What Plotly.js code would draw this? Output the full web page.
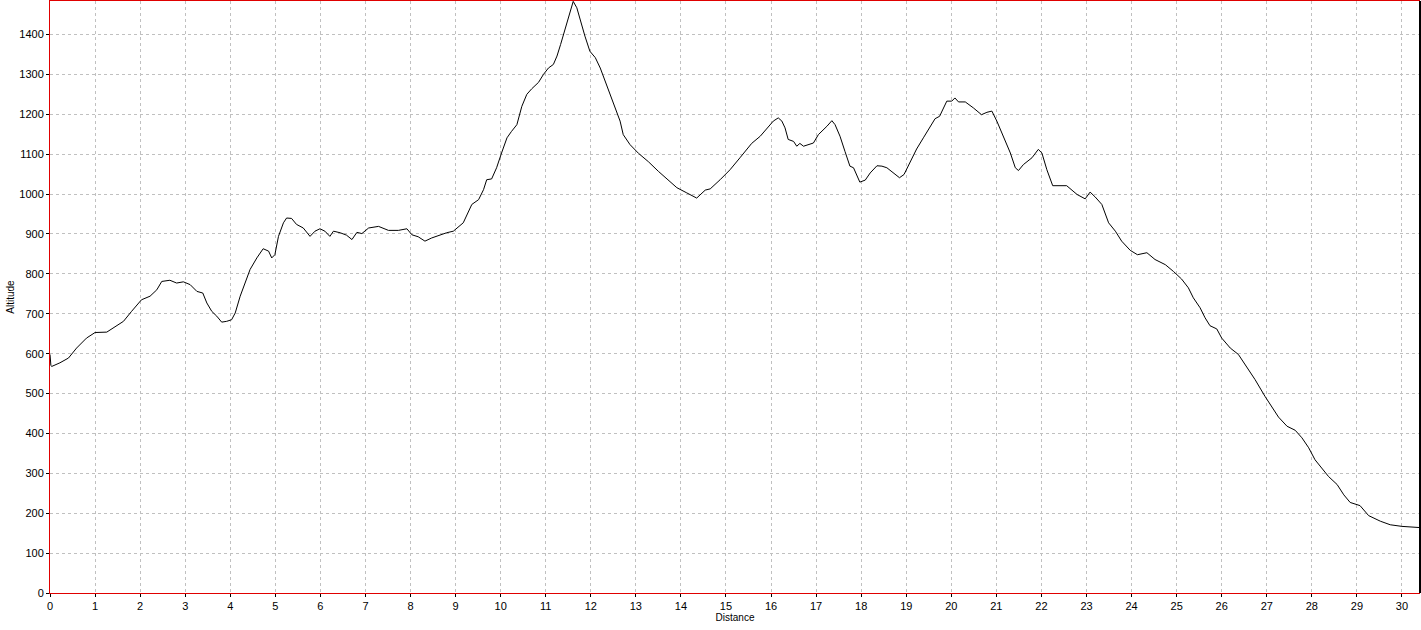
<!DOCTYPE html>
<html>
<head>
<meta charset="utf-8">
<script src="https://cdn.plot.ly/plotly-3.0.1.min.js"></script>
<style>html,body{margin:0;padding:0;background:#fff;}#chart{width:1421px;height:630px;}</style>
</head>
<body>
<div id="chart"></div>
<script>
const distance = [0, 0.02, 0.04, 0.22, 0.41, 0.59, 0.81, 1.0, 1.26, 1.44, 1.63, 1.81, 2.03, 2.22, 2.37, 2.48, 2.66, 2.81, 2.96, 3.11, 3.26, 3.39, 3.48, 3.59, 3.70, 3.81, 3.92, 4.03, 4.11, 4.22, 4.33, 4.44,
  4.59, 4.73, 4.85, 4.92, 4.99, 5.07, 5.18, 5.25, 5.36, 5.47, 5.62, 5.77, 5.88, 5.99, 6.10, 6.21, 6.29, 6.44, 6.58, 6.70, 6.81, 6.92, 7.07, 7.29, 7.51, 7.73, 7.92, 8.03, 8.17, 8.32, 8.47, 8.66, 8.80, 8.95,
  9.17, 9.36, 9.51, 9.62, 9.69, 9.80, 9.91, 10.02, 10.14, 10.24, 10.36, 10.47, 10.58, 10.69, 10.84, 10.95, 11.06, 11.17, 11.25, 11.33, 11.43, 11.50, 11.58, 11.61, 11.69, 11.76, 11.87, 11.98,
  12.10, 12.21, 12.32, 12.43, 12.54, 12.65, 12.72, 12.87, 13.06, 13.28, 13.50, 13.72, 13.91, 14.13, 14.35, 14.54, 14.65, 14.87, 15.09, 15.31, 15.57, 15.76, 15.98, 16.05, 16.16, 16.24, 16.31, 16.38,
  16.50, 16.57, 16.64, 16.72, 16.94, 17.05, 17.24, 17.35, 17.42, 17.53, 17.64, 17.75, 17.83, 17.97, 18.09, 18.20, 18.35, 18.46, 18.57, 18.72, 18.85, 18.95, 19.09, 19.23, 19.38, 19.53, 19.64, 19.74,
  19.83, 19.90, 20.01, 20.08, 20.16, 20.31, 20.49, 20.67, 20.79, 20.90, 21.01, 21.16, 21.31, 21.42, 21.49, 21.60, 21.79, 21.93, 22.01, 22.12, 22.25, 22.56, 22.79, 22.97, 23.08, 23.19, 23.34, 23.49,
  23.64, 23.78, 23.97, 24.13, 24.34, 24.52, 24.75, 24.93, 25.11, 25.26, 25.37, 25.52, 25.63, 25.74, 25.89, 26.00, 26.19, 26.37, 26.52, 26.62, 26.74, 26.96, 27.11, 27.26, 27.45, 27.63, 27.78, 27.93,
  28.07, 28.22, 28.37, 28.56, 28.71, 28.85, 29.07, 29.26, 29.52, 29.74, 30.00, 30.40];
const altitude = [598, 570, 568, 577, 589, 614, 639, 653, 654, 668, 681, 706, 735, 744, 760, 781, 784, 777, 780, 773, 756, 752, 727, 706, 694, 679, 681, 685, 702, 744, 777, 811,
  840, 863, 857, 840, 848, 894, 928, 940, 939, 924, 915, 894, 907, 913, 907, 894, 907, 903, 897, 886, 904, 901, 915, 919, 909, 909, 913, 898, 893, 882, 890, 898, 903, 907,
  928, 974, 986, 1011, 1036, 1038, 1066, 1103, 1141, 1157, 1174, 1220, 1250, 1264, 1280, 1300, 1316, 1325, 1346, 1375, 1413, 1442, 1471, 1483, 1467, 1438, 1396, 1358,
  1342, 1316, 1283, 1250, 1216, 1183, 1149, 1124, 1102, 1081, 1057, 1034, 1016, 1003, 990, 1010, 1013, 1036, 1061, 1091, 1127, 1145, 1172, 1183, 1191, 1183, 1166, 1137,
  1132, 1120, 1127, 1120, 1128, 1149, 1170, 1184, 1174, 1145, 1107, 1070, 1066, 1030, 1035, 1053, 1071, 1070, 1066, 1053, 1041, 1049, 1082, 1113, 1141, 1170, 1189, 1195,
  1216, 1233, 1233, 1241, 1231, 1231, 1216, 1199, 1205, 1208, 1183, 1145, 1103, 1066, 1059, 1074, 1091, 1112, 1103, 1061, 1021, 1021, 999, 988, 1005, 993, 974, 928,
  907, 882, 859, 848, 853, 836, 823, 806, 787, 765, 740, 715, 690, 670, 662, 639, 614, 598, 572, 553, 535, 493, 468, 441, 418, 408, 389, 364,
  334, 313, 292, 272, 246, 227, 219, 194, 180, 171, 167, 164];
const xTicks = [0,1,2,3,4,5,6,7,8,9,10,11,12,13,14,15,16,17,18,19,20,21,22,23,24,25,26,27,28,29,30];
const yTicks = [0,100,200,300,400,500,600,700,800,900,1000,1100,1200,1300,1400];

const font = {family: '"Liberation Sans", Arial, sans-serif', size: 11, color: '#000'};
Plotly.newPlot('chart', [{
  x: distance, y: altitude, type: 'scatter', mode: 'lines',
  line: {color: '#000', width: 1}, hoverinfo: 'x+y'
}], {
  width: 1421, height: 630,
  margin: {l: 50, r: 1, t: 1, b: 37, pad: 0},
  paper_bgcolor: '#fff', plot_bgcolor: '#fff',
  showlegend: false,
  font: font,
  xaxis: {
    range: [0, 30.4], tickvals: xTicks, ticktext: xTicks.map(String),
    showgrid: true, gridcolor: '#c0c0c0', griddash: '3px,3px', gridwidth: 1,
    showline: true, linecolor: '#e00000', linewidth: 1, mirror: true,
    ticks: 'outside', ticklen: 3, tickcolor: '#000', tickfont: font,
    zeroline: false, automargin: false,
    title: {text: 'Distance', font: {family: font.family, size: 10, color: '#000'}, standoff: 2}
  },
  yaxis: {
    range: [0, 1484], tickvals: yTicks, ticktext: yTicks.map(String),
    showgrid: true, gridcolor: '#c0c0c0', griddash: '3px,3px', gridwidth: 1,
    showline: true, linecolor: '#e00000', linewidth: 1,
    ticks: 'outside', ticklen: 3, tickcolor: '#000', tickfont: font,
    zeroline: false, automargin: false,
    title: {text: 'Altitude', font: {family: font.family, size: 10, color: '#000'}, standoff: 2}
  },
  shapes: [{type: 'line', xref: 'paper', yref: 'paper', x0: 1, x1: 1, y0: 0, y1: 1,
            line: {color: '#000', width: 2}}]
}, {displayModeBar: false, staticPlot: true});
</script>
</body>
</html>
